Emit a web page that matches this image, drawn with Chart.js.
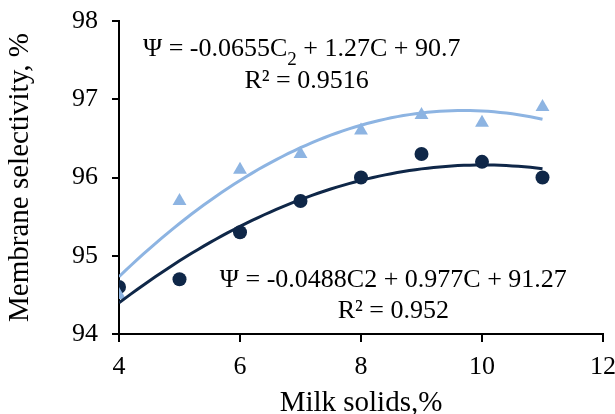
<!DOCTYPE html>
<html><head><meta charset="utf-8">
<script src="https://cdn.jsdelivr.net/npm/chart.js@4/dist/chart.umd.min.js"></script>
<style>html,body{margin:0;padding:0;background:#fff}#wrap{width:615px;height:414px}</style>
</head><body><div id="wrap"><canvas id="c" width="615" height="414"></canvas></div>
<script>
const milkSolids = [4, 5, 6, 7, 8, 9, 10, 11];
const seriesTriangle = [94.5, 95.7, 96.1, 96.3, 96.6, 96.8, 96.7, 96.9];
const seriesCircle = [94.6, 94.7, 95.3, 95.7, 96.0, 96.3, 96.2, 96.0];
const trendTriangleCoef = [-0.0655, 1.27, 90.7];
const trendCircleCoef = [-0.0488, 0.977, 91.27];
const xTicks = [4, 6, 8, 10, 12];
const yTicks = [94, 95, 96, 97, 98];
const xTitle = 'Milk solids,%';
const yTitle = 'Membrane selectivity, %';

const LIGHT = '#8DB4E2', DARK = '#0F2748';
const FONT = "'Liberation Serif', 'Times New Roman', Times, serif";

function pts(xs, ys){ return xs.map((x,i)=>({x, y: ys[i]})); }
function trend(c){
  const out=[]; const x0=milkSolids[0], x1=milkSolids[milkSolids.length-1];
  for(let k=0;k<=70;k++){ const x=x0+(x1-x0)*k/70; out.push({x, y:c[0]*x*x+c[1]*x+c[2]}); }
  return out;
}

const textPlugin = {
  id:'txt',
  afterDraw(chart){
    const {ctx, chartArea:ca, scales:{x, y}} = chart;
    ctx.save();
    ctx.fillStyle='#000';
    ctx.textBaseline='alphabetic';
    const f = '26px '+FONT, fs = '19px '+FONT;
    function seg(parts, cx, cy){
      let w=0;
      parts.forEach(p=>{ ctx.font = p.sub?fs:f; w += ctx.measureText(p.t).width; });
      let px = cx - w/2;
      ctx.textAlign='left';
      parts.forEach(p=>{ ctx.font = p.sub?fs:f; ctx.fillText(p.t, px, cy + (p.sub?9:0)); px += ctx.measureText(p.t).width; });
    }
    seg([{t:'Ψ = -0.0655C'},{t:'2',sub:true},{t:' + 1.27C + 90.7'}], x.getPixelForValue(7.02), y.getPixelForValue(97.553));
    seg([{t:'R² = 0.9516'}], x.getPixelForValue(7.10), y.getPixelForValue(97.144));
    seg([{t:'Ψ = -0.0488C2 + 0.977C + 91.27'}], x.getPixelForValue(8.534), y.getPixelForValue(94.60));
    seg([{t:'R² = 0.952'}], x.getPixelForValue(8.534), y.getPixelForValue(94.204));
    ctx.font = '29px '+FONT;
    ctx.textAlign='center';
    ctx.fillText(xTitle, (ca.left+ca.right)/2, 411);
    ctx.translate(28, (ca.top+ca.bottom)/2);
    ctx.rotate(-Math.PI/2);
    ctx.fillText(yTitle, 0, 0);
    ctx.restore();
  }
};

function draw(){
new Chart(document.getElementById('c'), {
  type:'scatter',
  data:{ datasets:[
    {type:'line', data:trend(trendTriangleCoef), borderColor:LIGHT, borderWidth:3, pointRadius:0, tension:0, fill:false},
    {type:'line', data:trend(trendCircleCoef), borderColor:DARK, borderWidth:3, pointRadius:0, tension:0, fill:false},
    {data:pts(milkSolids, seriesTriangle), pointStyle:'triangle', pointRadius:8, backgroundColor:LIGHT, borderColor:LIGHT, borderWidth:0},
    {data:pts(milkSolids, seriesCircle), pointStyle:'circle', pointRadius:7, backgroundColor:DARK, borderColor:DARK, borderWidth:0}
  ]},
  options:{
    responsive:false, animation:false, devicePixelRatio:1,
    layout:{padding:{top:21, right:12, left:0, bottom:0}},
    plugins:{legend:{display:false}, tooltip:{enabled:false}},
    scales:{
      x:{type:'linear', min:4, max:12,
        afterBuildTicks(s){ s.ticks = xTicks.map(v=>({value:v})); },
        afterFit(s){ s.height = 80; s.paddingLeft = 0; s.paddingRight = 0; },
        grid:{display:true, drawOnChartArea:false, drawTicks:true, tickLength:8, color:'#000', lineWidth:2},
        border:{display:true, color:'#000', width:2},
        ticks:{font:{family:FONT, size:26}, color:'#000', padding:10, maxRotation:0},
        title:{display:false}
      },
      y:{type:'linear', min:94, max:98,
        afterBuildTicks(s){ s.ticks = yTicks.map(v=>({value:v})); },
        afterFit(s){ s.width = 119; s.paddingTop = 0; s.paddingBottom = 0; },
        grid:{display:true, drawOnChartArea:false, drawTicks:true, tickLength:7, color:'#000', lineWidth:2},
        border:{display:true, color:'#000', width:2},
        ticks:{font:{family:FONT, size:26}, color:'#000', padding:14},
        title:{display:false}
      }
    }
  },
  plugins:[textPlugin]
});
}
if (document.fonts && document.fonts.load) {
  Promise.all([document.fonts.load("26px 'Liberation Serif'")]).then(draw, draw);
} else draw();
</script></body></html>
